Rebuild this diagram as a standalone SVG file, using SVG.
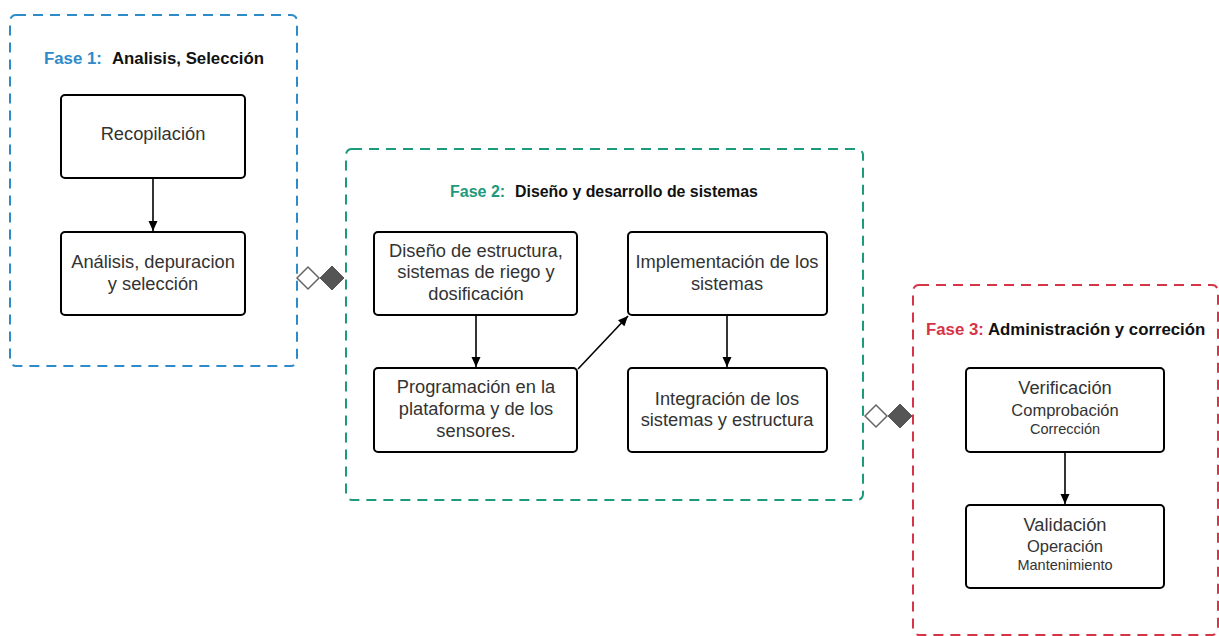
<svg xmlns="http://www.w3.org/2000/svg" width="1219" height="636" viewBox="0 0 1219 636">
<defs>
<style>
.phase{fill:none;stroke-width:2;stroke-dasharray:10 7;}
.box{fill:#fff;stroke:#000;stroke-width:2;}
.t{font-family:"Liberation Sans",Arial,sans-serif;fill:#333;text-anchor:middle;}
.t18{font-size:18.3px;}
.t16{font-size:16.5px;}
.t14{font-size:14.5px;}
.title{font-family:"Liberation Sans",Arial,sans-serif;font-weight:bold;font-size:16.8px;}
.conn{stroke:#000;stroke-width:1.6;fill:none;marker-end:url(#ah);}
.dh{fill:#fff;stroke:#666;stroke-width:1.5;}
.df{fill:#555;stroke:#555;stroke-width:1;}
</style>
<marker id="ah" viewBox="0 0 10 10" refX="10" refY="5" markerWidth="10" markerHeight="10" markerUnits="userSpaceOnUse" orient="auto">
<path d="M0,0.5 L10,5 L0,9.5 Z" fill="#000"/>
</marker>
</defs>
<rect width="1219" height="636" fill="#fff"/>

<g id="fase1">
<rect class="phase" x="10" y="15" width="287" height="351" rx="6" stroke="#2E8BC9"/>
<text class="title" x="44" y="64" fill="#2E8BC9">Fase 1:</text>
<text class="title" x="112" y="64" fill="#111">Analisis, Selección</text>
</g>
<g id="recopilacion">
<rect class="box" x="61" y="95" width="184" height="83" rx="4"/>
<text class="t t18" x="153" y="140">Recopilación</text>
</g>
<g id="analisis">
<rect class="box" x="61" y="232" width="184" height="83" rx="4"/>
<text class="t t18" x="153" y="268">Análisis, depuracion</text>
<text class="t t18" x="153" y="290">y selección</text>
</g>

<g id="fase2">
<rect class="phase" x="346" y="149" width="517" height="351" rx="6" stroke="#1B9A7C"/>
<text class="title" x="450" y="197" fill="#1B9A7C" style="font-size:16px">Fase 2:</text>
<text class="title" x="515" y="197" fill="#111" style="font-size:15.9px">Diseño y desarrollo de sistemas</text>
</g>
<g id="diseno">
<rect class="box" x="374" y="232" width="203" height="83" rx="4"/>
<text class="t t18" x="476" y="257">Diseño de estructura,</text>
<text class="t t18" x="476" y="278">sistemas de riego y</text>
<text class="t t18" x="476" y="300">dosificación</text>
</g>
<g id="programacion">
<rect class="box" x="374" y="368" width="203" height="84" rx="4"/>
<text class="t t18" x="476" y="393">Programación en la</text>
<text class="t t18" x="476" y="415">plataforma y de los</text>
<text class="t t18" x="476" y="437">sensores.</text>
</g>
<g id="implementacion">
<rect class="box" x="628" y="232" width="199" height="83" rx="4"/>
<text class="t t18" x="727" y="268">Implementación de los</text>
<text class="t t18" x="727" y="290">sistemas</text>
</g>
<g id="integracion">
<rect class="box" x="628" y="368" width="199" height="84" rx="4"/>
<text class="t t18" x="727" y="405">Integración de los</text>
<text class="t t18" x="727" y="426">sistemas y estructura</text>
</g>

<g id="fase3">
<rect class="phase" x="913" y="285" width="305" height="350" rx="6" stroke="#D63447"/>
<text class="title" x="926" y="335" fill="#D63447">Fase 3:</text>
<text class="title" x="988" y="335" fill="#111">Administración y correción</text>
</g>
<g id="verificacion">
<rect class="box" x="966" y="368" width="198" height="84" rx="4"/>
<text class="t t18" x="1065" y="394">Verificación</text>
<text class="t t16" x="1065" y="416">Comprobación</text>
<text class="t t14" x="1065" y="434">Corrección</text>
</g>
<g id="validacion">
<rect class="box" x="966" y="505" width="198" height="83" rx="4"/>
<text class="t t18" x="1065" y="531">Validación</text>
<text class="t t16" x="1065" y="552">Operación</text>
<text class="t t14" x="1065" y="570">Mantenimiento</text>
</g>

<g id="connectors">
<line class="conn" x1="153" y1="178" x2="153" y2="231"/>
<line class="conn" x1="476" y1="315" x2="476" y2="367"/>
<line class="conn" x1="578" y1="369" x2="628" y2="316"/>
<line class="conn" x1="727" y1="315" x2="727" y2="367"/>
<line class="conn" x1="1065" y1="452" x2="1065" y2="504"/>
<polygon class="dh" points="297,278 308,267 319,278 308,289"/>
<polygon class="df" points="320,278 332,266 344,278 332,290"/>
<polygon class="dh" points="865,416 876,405 887,416 876,427"/>
<polygon class="df" points="888,416 900,404 912,416 900,428"/>
</g>
</svg>
